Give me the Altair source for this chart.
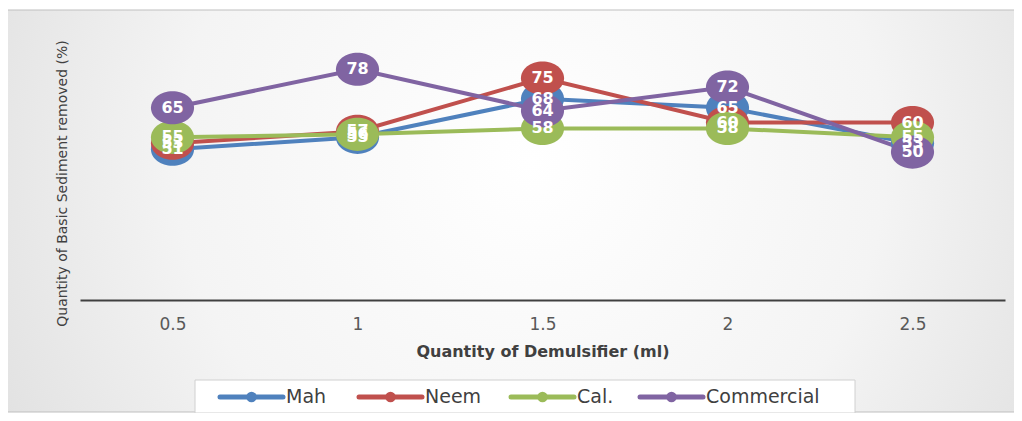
import altair as alt
import pandas as pd

categories = ["0.5", "1", "1.5", "2", "2.5"]
series = ["Mah", "Neem", "Cal.", "Commercial"]
mah = [51, 55, 68, 65, 53]
neem = [53, 57, 75, 60, 60]
cal = [55, 56, 58, 58, 55]
commercial = [65, 78, 64, 72, 50]
colors = ["#4F81BD", "#C0504D", "#9BBB59", "#8064A2"]

rows = []
for si, (name, vals) in enumerate(zip(series, [mah, neem, cal, commercial])):
    for ci, (c, v) in enumerate(zip(categories, vals)):
        rows.append({"x": c, "series": name, "value": v, "order": si * 10 + ci})
df = pd.DataFrame(rows)

# legend layout (pixel offsets inside the plot area)
leg_sym_start = [140, 279, 431, 560]
leg_sym_len = 63
leg_y = 378
leg_df = pd.DataFrame({
    "series": series,
    "x0": leg_sym_start,
    "x1": [s + leg_sym_len for s in leg_sym_start],
    "xm": [s + leg_sym_len / 2 for s in leg_sym_start],
    "xl": [s + leg_sym_len + 3 for s in leg_sym_start],
})

W, H = 925, 281
FONT = "DejaVu Sans"
cscale = alt.Scale(domain=series, range=colors)

xenc = alt.X("x:N", sort=categories, scale=alt.Scale(type="point", padding=0.5),
             axis=alt.Axis(title="Quantity of Demulsifier (ml)", labelAngle=0, ticks=False,
                           labelPadding=16, labelFontSize=17, labelColor="#595959",
                           labelFont=FONT, domainColor="#404040", domainWidth=2,
                           titleFont=FONT, titleFontSize=16, titleFontWeight="bold",
                           titleColor="#404040", titlePadding=11, grid=False, zindex=1))
yenc = alt.Y("value:Q", scale=alt.Scale(domain=[0, 95], nice=False, zero=True),
             axis=alt.Axis(title="Quantity of Basic Sediment removed (%)", labels=False,
                           ticks=False, domain=False, grid=False, titleFont=FONT,
                           titleFontSize=14, titleFontWeight="normal", titleColor="#404040",
                           titleAngle=-90, titleX=-18, titleY=164, titleAlign="center",
                           titleBaseline="middle", zindex=1))

one = pd.DataFrame({"a": [0]})
bg = alt.Chart(one).mark_rect(
    fill=alt.Gradient(gradient="radial",
                      stops=[alt.GradientStop(offset=0, color="#ffffff"),
                             alt.GradientStop(offset=0.45, color="#f4f4f4"),
                             alt.GradientStop(offset=1, color="#d2d2d2")],
                      x1=0.52, y1=0.45, r1=0, x2=0.52, y2=0.45, r2=0.78),
    stroke="#bfbfbf", strokeWidth=1
).encode(x=alt.value(-73), x2=alt.value(935), y=alt.value(-9), y2=alt.value(393))

base = alt.Chart(df)
lines = base.mark_line(strokeWidth=4).encode(
    x=xenc, y=yenc, color=alt.Color("series:N", scale=cscale, legend=None),
    detail="series:N", order="order:Q")

ellipse = "M-1.3,0 A1.3,1 0 1,0 1.3,0 A1.3,1 0 1,0 -1.3,0 Z"
points = base.mark_point(filled=True, opacity=1, shape=ellipse, size=1100, strokeWidth=0).encode(
    x=xenc, y=yenc, color=alt.Color("series:N", scale=cscale, legend=None),
    order="order:Q")

labels = base.mark_text(color="white", font=FONT, fontSize=16, fontWeight="bold",
                        baseline="middle", align="center").encode(
    x=xenc, y=yenc, text="value:Q", order="order:Q")

# manual legend
leg_box = alt.Chart(one).mark_rect(fill="white", stroke="#d0d0d0", strokeWidth=1).encode(
    x=alt.value(115), x2=alt.value(775), y=alt.value(361), y2=alt.value(394))
leg_base = alt.Chart(leg_df)
leg_lines = leg_base.mark_rule(strokeWidth=5, strokeCap="round").encode(
    x=alt.X("x0:Q", scale=None), x2="x1:Q", y=alt.value(leg_y),
    color=alt.Color("series:N", scale=cscale, legend=None))
leg_dots = leg_base.mark_point(filled=True, opacity=1, shape="circle", size=110, strokeWidth=0).encode(
    x=alt.X("xm:Q", scale=None), y=alt.value(leg_y),
    color=alt.Color("series:N", scale=cscale, legend=None))
leg_text = leg_base.mark_text(font=FONT, fontSize=19, color="#404040", align="left",
                              baseline="middle").encode(
    x=alt.X("xl:Q", scale=None), y=alt.value(leg_y), text="series:N")

chart = alt.layer(bg, lines, points, labels, leg_box, leg_lines, leg_dots, leg_text).properties(
    width=W, height=H,
    autosize=alt.AutoSizeParams(type="none"),
    padding={"left": 72, "top": 11, "right": 9, "bottom": 113},
    background="white"
).configure_view(strokeWidth=0)

chart.save("out.html", embed_options={"renderer": "svg", "actions": False})
